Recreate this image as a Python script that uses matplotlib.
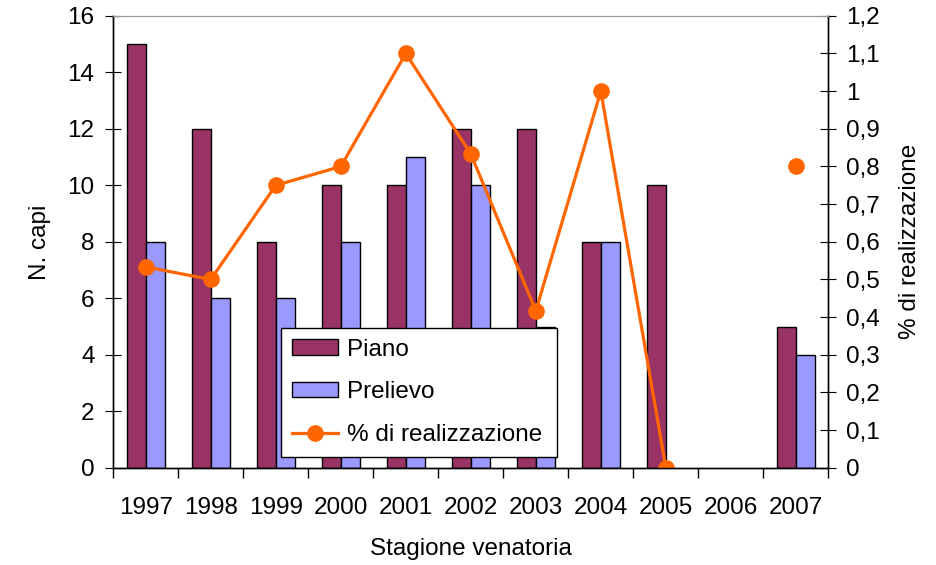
import numpy as np
import matplotlib.pyplot as plt
from matplotlib.ticker import FuncFormatter, FixedLocator

plt.rcParams['font.family'] = ['Liberation Sans', 'DejaVu Sans']

stagioni = ['1997', '1998', '1999', '2000', '2001', '2002', '2003', '2004', '2005', '2006', '2007']
piano = [15, 12, 8, 10, 10, 12, 12, 8, 10, 0, 5]
prelievo = [8, 6, 6, 8, 11, 10, 5, 8, 0, 0, 4]
realizzazione = [8/15, 6/12, 6/8, 8/10, 11/10, 10/12, 5/12, 8/8, 0/10, np.nan, 4/5]

x = np.arange(len(stagioni))
w = 0.29
fs = 17.5

fig = plt.figure(figsize=(9.36, 5.65), dpi=100)
ax = fig.add_axes([0.121, 0.172, 0.764, 0.800])
ax2 = ax.twinx()

b1 = ax.bar(x - w / 2, piano, w, color='#993366', edgecolor='black', linewidth=1, label='Piano')
b2 = ax.bar(x + w / 2, prelievo, w, color='#9999FF', edgecolor='black', linewidth=1, label='Prelievo')
# empty seasons: no outline on zero-height bars
for bars in (b1, b2):
    for r in bars:
        if r.get_height() == 0:
            r.set_linewidth(0)
l1, = ax2.plot(x, realizzazione, color='#FF6600', lw=2.3, marker='o', ms=11,
               label='% di realizzazione')

ax.set_xlim(-0.5, len(stagioni) - 0.5)
ax.set_ylim(0, 16)
ax2.set_ylim(0, 1.2)
ax.set_yticks(range(0, 17, 2))
ax2.set_yticks(np.arange(0, 1.21, 0.1))
ax2.yaxis.set_major_formatter(FuncFormatter(lambda v, p: f'{v:.1f}'.rstrip('0').rstrip('.').replace('.', ',') if v else '0'))

ax.set_xticks(x)
ax.set_xticklabels(stagioni)
ax.tick_params(axis='x', which='major', length=0, pad=21, labelsize=fs)
ax.xaxis.set_minor_locator(FixedLocator(np.arange(-0.5, len(stagioni), 1)))
ax.tick_params(axis='x', which='minor', length=7, direction='out', width=1)
ax.tick_params(axis='y', direction='inout', length=11, labelsize=fs, pad=8)
ax2.tick_params(axis='y', direction='inout', length=11, labelsize=fs, pad=7)

for a in (ax, ax2):
    a.spines['top'].set_color('#999999')
    for s in ('left', 'right', 'bottom'):
        a.spines[s].set_linewidth(1)

ax.set_ylabel('N. capi', fontsize=fs, labelpad=12)
ax2.set_ylabel('% di realizzazione', fontsize=fs, labelpad=14)
ax.set_xlabel('Stagione venatoria', fontsize=fs, labelpad=14)

leg = ax2.legend([b1, b2, l1], ['Piano', 'Prelievo', '% di realizzazione'],
                 loc='upper left', bbox_to_anchor=(0.234, 0.31, 0.386, 0.0),
                 mode='expand', fontsize=fs, frameon=True, fancybox=False,
                 edgecolor='black', framealpha=1, borderpad=0.45, labelspacing=0.85,
                 handlelength=1.9, handleheight=0.6, handletextpad=0.4,
                 borderaxespad=0)
leg.get_frame().set_linewidth(1)
leg.set_zorder(10)

fig.savefig('out.png', dpi=100)
